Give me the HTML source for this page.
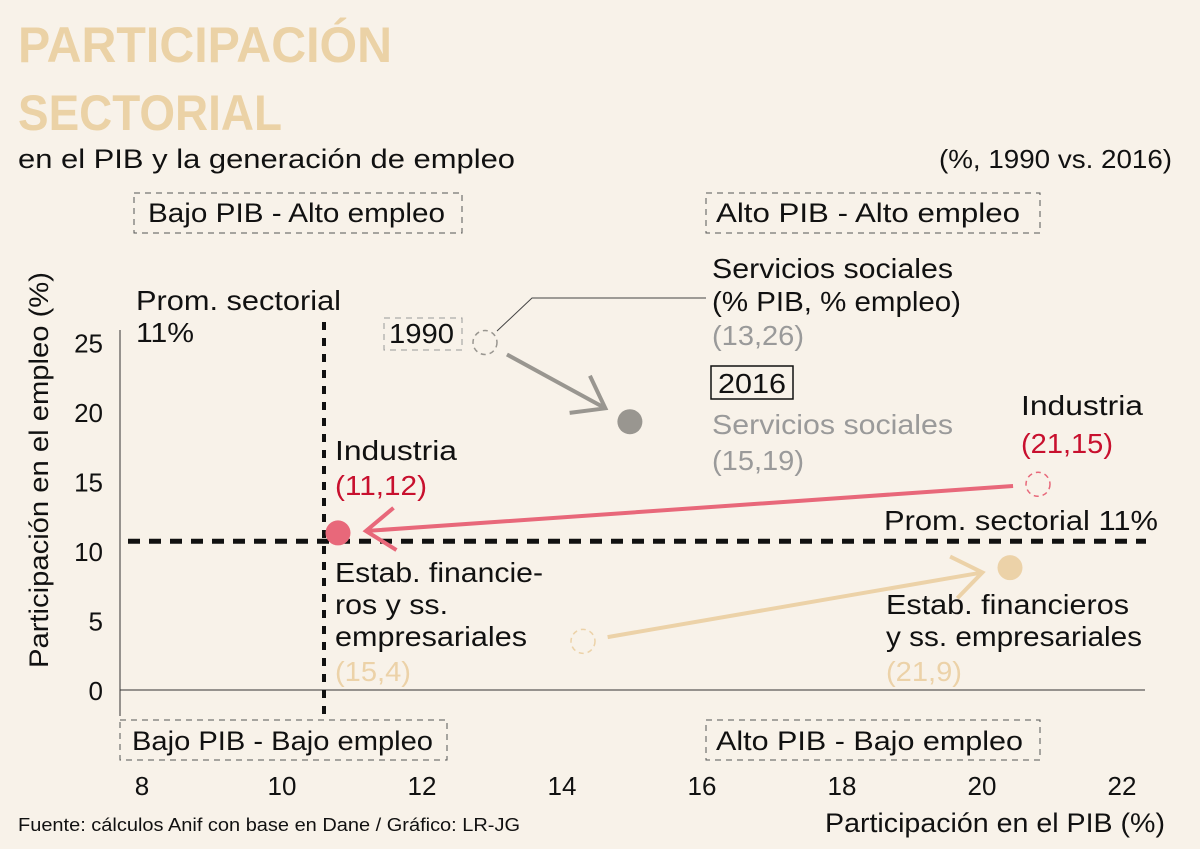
<!DOCTYPE html>
<html><head><meta charset="utf-8"><style>
html,body{margin:0;padding:0;background:#f8f2e9;}
svg{display:block;font-family:"Liberation Sans",sans-serif;}
</style></head><body>
<svg id="chart" width="1200" height="849" viewBox="0 0 1200 849">
<rect width="1200" height="849" fill="#f8f2e9"/>
<text x="18" y="62" font-size="50" font-weight="bold" fill="#ebd2a6" textLength="374" lengthAdjust="spacingAndGlyphs">PARTICIPACIÓN</text>
<text x="18" y="130" font-size="50" font-weight="bold" fill="#ebd2a6" textLength="264" lengthAdjust="spacingAndGlyphs">SECTORIAL</text>
<text x="18" y="168" font-size="27" fill="#111" textLength="497" lengthAdjust="spacingAndGlyphs">en el PIB y la generación de empleo</text>
<text x="1172" y="168" font-size="26" fill="#111" text-anchor="end" textLength="233" lengthAdjust="spacingAndGlyphs">(%, 1990 vs. 2016)</text>

<g>
<rect x="134" y="193" width="328" height="40" fill="none" stroke="#555" stroke-dasharray="6,5"/>
<text x="148" y="222" font-size="27" fill="#111" textLength="297" lengthAdjust="spacingAndGlyphs">Bajo PIB - Alto empleo</text>
<rect x="706" y="193" width="334" height="40" fill="none" stroke="#555" stroke-dasharray="6,5"/>
<text x="716" y="222" font-size="27" fill="#111" textLength="304" lengthAdjust="spacingAndGlyphs">Alto PIB - Alto empleo</text>
<rect x="120" y="720" width="327" height="40" fill="none" stroke="#555" stroke-dasharray="6,5"/>
<text x="132" y="750" font-size="27" fill="#111" textLength="301" lengthAdjust="spacingAndGlyphs">Bajo PIB - Bajo empleo</text>
<rect x="706" y="720" width="334" height="40" fill="none" stroke="#555" stroke-dasharray="6,5"/>
<text x="716" y="750" font-size="27" fill="#111" textLength="307" lengthAdjust="spacingAndGlyphs">Alto PIB - Bajo empleo</text>
</g>

<g id="axes"></g>
<g id="marks"></g>

<text x="18" y="831" font-size="18" fill="#111" textLength="502" lengthAdjust="spacingAndGlyphs">Fuente: cálculos Anif con base en Dane / Gráfico: LR-JG</text>
<text x="1165" y="832" font-size="27" text-anchor="end" fill="#111" textLength="340" lengthAdjust="spacingAndGlyphs">Participación en el PIB (%)</text>
<text transform="translate(48,470) rotate(-90)" font-size="27" text-anchor="middle" fill="#111" textLength="396" lengthAdjust="spacingAndGlyphs">Participación en el empleo (%)</text>
</svg>
<script>
const xTicks = [8,10,12,14,16,18,20,22];
const yTicks = [0,5,10,15,20,25];
const sectors = ["Servicios sociales","Industria","Estab. financieros"];
const pib1990 = [12.9, 20.8, 14.3];
const emp1990 = [25.0, 14.8, 3.5];
const pib2016 = [14.97, 10.8, 20.4];
const emp2016 = [19.3, 11.3, 8.8];
const avgPib = [10.6];
const avgEmp = [10.7];

const colors = ["#999690","#e8687a","#ecd2a8"];
const X = v => 142 + (v - 8) * 70;
const Y = v => 690 - v * 13.9;
const NS = "http://www.w3.org/2000/svg";
function mk(parent, tag, attrs){ const e=document.createElementNS(NS,tag); for(const k in attrs) e.setAttribute(k,attrs[k]); parent.appendChild(e); return e; }
const axes = document.getElementById('axes');
const marks = document.getElementById('marks');

let el = mk(axes,'line',{x1:120,y1:330,x2:120,y2:716,stroke:'#333','stroke-width':1});


el = mk(axes,'line',{x1:120,y1:Y(0),x2:1145,y2:Y(0),stroke:'#333','stroke-width':1});


xTicks.forEach(t=>{
  const tx = mk(axes,'text',{x:X(t),y:795,'font-size':26,'text-anchor':'middle',fill:'#111'});
  tx.textContent = t;
  
  
});
yTicks.forEach(t=>{
  const tx = mk(axes,'text',{x:103,y:Y(t)+10,'font-size':26,'text-anchor':'end',fill:'#111'});
  tx.textContent = t;
  
  
});
el = mk(axes,'line',{x1:X(avgPib[0]),y1:322,x2:X(avgPib[0]),y2:718,stroke:'#111','stroke-width':4,'stroke-dasharray':'8,8'});


el = mk(axes,'line',{x1:128,y1:Y(avgEmp[0]),x2:1146,y2:Y(avgEmp[0]),stroke:'#111','stroke-width':5,'stroke-dasharray':'12,9'});



function arrowHead(x2,y2,ang,len){
  const a1=ang+Math.PI*0.8, a2=ang-Math.PI*0.8;
  return `M${x2+len*Math.cos(a1)},${y2+len*Math.sin(a1)} L${x2},${y2} L${x2+len*Math.cos(a2)},${y2+len*Math.sin(a2)}`;
}
sectors.forEach((s,i)=>{
  const x1=X(pib1990[i]), y1=Y(emp1990[i]), x2=X(pib2016[i]), y2=Y(emp2016[i]);
  const ang=Math.atan2(y2-y1,x2-x1);
  const sx=x1+Math.cos(ang)*25, sy=y1+Math.sin(ang)*25;
  const ex=x2-Math.cos(ang)*28, ey=y2-Math.sin(ang)*28;
  const c1 = mk(marks,'circle',{cx:x1,cy:y1,r:12,fill:'none',stroke:colors[i],'stroke-width':1.5,'stroke-dasharray':'5,4'});
  
  
  const ln = mk(marks,'path',{d:`M${sx},${sy} L${ex},${ey} `+arrowHead(ex,ey,ang,36),fill:'none',stroke:colors[i],'stroke-width':4,'stroke-linejoin':'miter'});
  
  
  const c2 = mk(marks,'circle',{cx:x2,cy:y2,r:12.5,fill:colors[i]});
  
  
});

// [x, y, text, color, width]
const labels = [
 [136,310,"Prom. sectorial","#111",205],[136,342,"11%","#111",58],
 [712,278,"Servicios sociales","#111",241],[712,311,"(% PIB, % empleo)","#111",249],[712,345,"(13,26)","#9a9a9a",92],
 [712,434,"Servicios sociales","#9a9a9a",241],[712,470,"(15,19)","#9a9a9a",92],
 [1021,415,"Industria","#111",122],[1021,453,"(21,15)","#c8102e",92],
 [335,460,"Industria","#111",122],[335,495,"(11,12)","#c8102e",92],
 [884,530,"Prom. sectorial 11%","#111",274],
 [335,582,"Estab. financie-","#111",208],[335,614,"ros y ss.","#111",113],[335,646,"empresariales","#111",192],[335,681,"(15,4)","#ecd2a8",76],
 [886,614,"Estab. financieros","#111",243],[886,646,"y ss. empresariales","#111",256],[886,681,"(21,9)","#ecd2a8",76],
 [389,343,"1990","#111",65],[718,393,"2016","#111",68]
];
labels.forEach(l=>{
  const t=mk(marks,'text',{x:l[0],y:l[1],'font-size':28,fill:l[3],textLength:l[4],lengthAdjust:'spacingAndGlyphs'});
  t.textContent=l[2];
  
  
});
el = mk(marks,'rect',{x:384,y:318,width:78,height:32,fill:'none',stroke:'#999','stroke-dasharray':'6,5'});


el = mk(marks,'rect',{x:711,y:366,width:82,height:33,fill:'none',stroke:'#111','stroke-width':1.5});


el = mk(marks,'path',{d:'M497,331 L532,298 L706,298',fill:'none',stroke:'#444','stroke-width':1});


</script>
</body></html>
